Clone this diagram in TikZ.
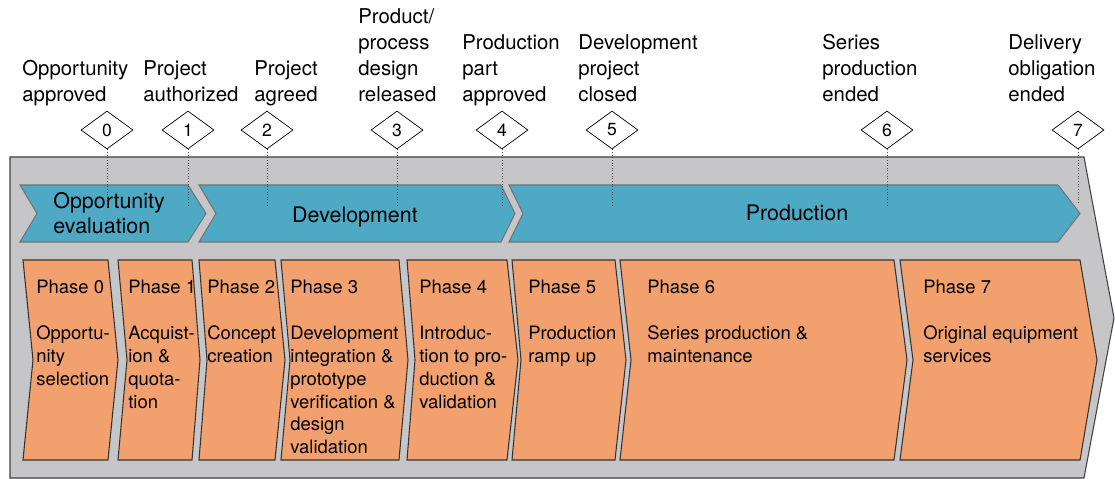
\documentclass[tikz,border=0pt]{standalone}
\usepackage{fontspec}
\setmainfont{TeX Gyre Heros}
\usetikzlibrary{shapes.geometric}
\definecolor{panelgray}{RGB}{198,198,200}
\definecolor{stageblue}{RGB}{78,170,196}
\definecolor{phaseorange}{RGB}{242,161,110}
\tikzset{
  panel/.style={fill=panelgray,draw=black!75,line width=0.6pt},
  stage/.style={fill=stageblue,draw=black!55,line width=0.6pt},
  phasebox/.style={fill=phaseorange,draw=black!80,line width=0.6pt},
  gate/.style={diamond,draw,fill=white,inner sep=0pt,minimum width=1.04cm,minimum height=0.76cm,font=\fontsize{10}{12}\selectfont},
  gatelabel/.style={anchor=base west,inner sep=0pt,align=left,font=\fontsize{11.6}{14.8}\selectfont},
  stagelabel/.style={inner sep=0pt,align=left,font=\fontsize{12.2}{14.5}\selectfont},
  phaselabel/.style={anchor=north west,inner sep=0pt,align=left,font=\fontsize{10.5}{13}\selectfont},
  gateline/.style={densely dotted,black!70,line width=0.5pt}
}
% chevron: style, left x, notch depth, right x, tip depth, top y, bottom y
\newcommand{\chevron}[7]{%
  \draw[#1] (#2,#6) -- (#4,#6) -- ({#4+#5},{(#6+#7)/2}) -- (#4,#7) -- (#2,#7)
    -- ({#2+#3},{(#6+#7)/2}) -- cycle;}
\begin{document}
\begin{tikzpicture}[x=0.02cm,y=-0.02cm]
  \useasboundingbox (0,0) rectangle (1115,479);
  %% background arrow
  \draw[panel] (10,157) -- (1084,157) -- (1114,318) -- (1084,478) -- (10,478) -- cycle;
  %% stages
  \chevron{stage}{20}{17}{188}{18}{185}{242}
  \chevron{stage}{199}{17}{501}{14}{185}{242}
  \chevron{stage}{509}{14}{1058}{22}{185}{242}
  \node[stagelabel,anchor=base west] (sopp) at (53,234) {Opportunity\\evaluation};
  \node[stagelabel,anchor=base] (sdev) at (355,223) {Development};
  \node[stagelabel,anchor=base] (sprod) at (797,221) {Production};
  %% phases
  \foreach \xa/\da/\xb/\db in {23/10/108/10, 118/9/192/8, 199/8/275/10, 281/9/399/9,
                               407/8/507/11, 512/9/615/11, 620/11/894/13, 900/13/1080/17}
    {\chevron{phasebox}{\xa}{\da}{\xb}{\db}{260}{460}}
  \foreach \i/\x/\txt in {0/36/Opportu-\\nity\\selection,
                          1/128/Acquist-\\ion \&\\quota-\\tion,
                          2/207/Concept\\creation,
                          3/290/Development\\integration \&\\prototype\\verification \&\\design\\validation,
                          4/419/Introduc-\\tion to pro-\\duction \&\\validation,
                          5/528/Production\\ramp up,
                          6/647/Series production \&\\maintenance,
                          7/923/Original equipment\\services}
    \node[phaselabel] (ph\i) at (\x,280) {Phase \i\\[13pt]\txt};
  %% gates
  \foreach \i/\x/\e in {0/107/207, 1/188/207, 2/267/207, 3/397/207,
                        4/502/207, 5/612/207, 6/887/207, 7/1078/203} {
    \node[gate] (g\i) at (\x,130) {\i};
    \coordinate (e\i) at (\x,\e);
    \draw[gateline] (g\i.south) -- (e\i);
  }
  %% gate labels
  \node[gatelabel] (l0) at (22,102) {Opportunity\\approved};
  \node[gatelabel] (l1) at (143,102) {Project\\authorized};
  \node[gatelabel,align=right,anchor=base east] (l2) at (318,102) {Project\\agreed};
  \node[gatelabel] (l3) at (358,102) {Product/\\process\\design\\released};
  \node[gatelabel] (l4) at (462,102) {Production\\part\\approved};
  \node[gatelabel] (l5) at (578,102) {Development\\project\\closed};
  \node[gatelabel] (l6) at (822,102) {Series\\production\\ended};
  \node[gatelabel] (l7) at (1008,102) {Delivery\\obligation\\ended};
\end{tikzpicture}
\end{document}
